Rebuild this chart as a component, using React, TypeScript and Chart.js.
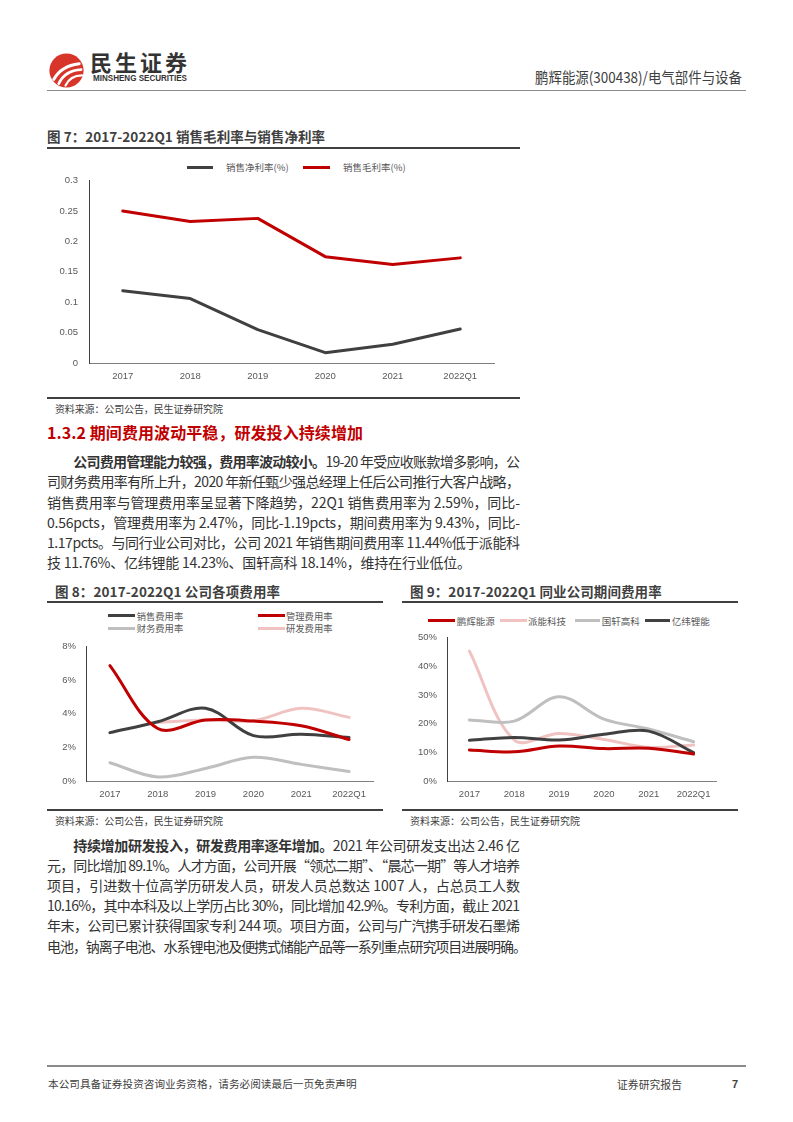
import React, { useEffect, useLayoutEffect, useRef } from "react";
import { Chart, registerables } from "chart.js";
Chart.register(...registerables);

const CJK = "'Noto Sans CJK SC','Noto Sans',sans-serif";
const NUM = "'Liberation Sans','Noto Sans CJK SC',sans-serif";

const DARK = "#404040";
const RED = "#c00000";
const GRAY = "#bfbfbf";
const PINK = "#f0c2c2";
const TICK = "#595959";

// ---------- data ----------
const years = ["2017", "2018", "2019", "2020", "2021", "2022Q1"];

// Figure 7
const netMargin = [0.119, 0.106, 0.055, 0.017, 0.031, 0.056];
const grossMargin = [0.25, 0.233, 0.238, 0.175, 0.162, 0.173];

// Figure 8 (%)
const sellingRate = [2.88, 3.53, 4.33, 2.7, 2.78, 2.59];
const adminRate = [6.87, 3.13, 3.63, 3.57, 3.29, 2.47];
const financeRate = [1.09, 0.24, 0.75, 1.41, 0.99, 0.56];
const rdRate = [null, 3.49, 3.63, 3.59, 4.33, 3.79];

// Figure 9 (%)
const penghui = [10.8, 10.2, 12.2, 11.3, 11.44, 9.43];
const paineng = [45.3, 14.3, 16.6, 14.5, 11.76, 12.6];
const guoxuan = [21.3, 20.9, 29.4, 21.6, 18.14, 13.7];
const yiwei = [14.2, 15.2, 14.3, 16.3, 17.4, 9.9];

// ---------- helpers ----------
function Fit({ w, mode = "space", children }: { w: number; mode?: string; children: any }) {
  const ref = useRef<HTMLSpanElement>(null);
  useLayoutEffect(() => {
    const el = ref.current;
    if (!el) return;
    el.style.letterSpacing = "0px";
    el.style.transform = "none";
    const nat = el.getBoundingClientRect().width;
    if (mode === "scale") {
      el.style.transform = `scaleX(${w / nat})`;
    } else {
      const n = Array.from(el.textContent || "").length;
      if (n > 1) el.style.letterSpacing = `${(w - nat) / (n - 1)}px`;
    }
  }, [w, mode]);
  return (
    <span ref={ref} style={{ display: "inline-block", whiteSpace: "nowrap", transformOrigin: "0 0" }}>
      {children}
    </span>
  );
}

function Txt(props: {
  x: number; cy: number; size: number; w?: number; mode?: string; color?: string;
  weight?: any; family?: string; children: any;
}) {
  const lh = Math.round(props.size * 1.5);
  return (
    <div
      style={{
        position: "absolute", left: props.x, top: props.cy - lh / 2, height: lh, lineHeight: lh + "px",
        fontSize: props.size, color: props.color || "#333", fontWeight: props.weight || 400,
        fontFamily: props.family || CJK, whiteSpace: "nowrap",
      }}
    >
      {props.w ? <Fit w={props.w} mode={props.mode}>{props.children}</Fit> : props.children}
    </div>
  );
}

function Rule({ x1, x2, y, t, color }: { x1: number; x2: number; y: number; t: number; color: string }) {
  return <div style={{ position: "absolute", left: x1, top: y - t / 2, width: x2 - x1, height: t, background: color }} />;
}

function Leg({ x1, x2, cy, color, tx, label, size }: any) {
  return (
    <>
      <div style={{ position: "absolute", left: x1, top: cy - 1.5, width: x2 - x1, height: 3, background: color }} />
      <Txt x={tx} cy={cy} size={size} color={TICK}>{label}</Txt>
    </>
  );
}

function makeOptions(o: {
  min: number; max: number; step: number; fmt: (v: number) => string; yW: number; xH: number;
  padRight: number; yPad: number; xPad: number; tension: number;
}) {
  return {
    animation: false,
    responsive: false,
    devicePixelRatio: 1,
    layout: { padding: { top: 0, right: o.padRight, left: 0, bottom: 0 } },
    plugins: { legend: { display: false }, tooltip: { enabled: false } },
    elements: {
      point: { radius: 0, hoverRadius: 0 },
      line: { tension: o.tension, borderCapStyle: "round", borderJoinStyle: "round", fill: false },
    },
    scales: {
      x: {
        offset: true,
        grid: { display: false, drawTicks: false },
        border: { display: true, color: "#808080", width: 1 },
        ticks: { padding: o.xPad, color: TICK, font: { family: NUM, size: 9.5 }, maxRotation: 0, autoSkip: false },
        afterFit: (s: any) => { s.height = o.xH; },
      },
      y: {
        min: o.min,
        max: o.max,
        grid: { display: false, drawTicks: false },
        border: { display: true, color: "#404040", width: 1 },
        ticks: {
          stepSize: o.step, padding: o.yPad, color: TICK, font: { family: NUM, size: 9.5 },
          callback: (v: any) => o.fmt(Number(v)),
        },
        afterFit: (s: any) => { s.width = o.yW; },
      },
    },
  };
}

function LineChart({ left, top, width, height, datasets, options }: any) {
  const ref = useRef<HTMLCanvasElement>(null);
  useEffect(() => {
    const c = new Chart(ref.current as HTMLCanvasElement, {
      type: "line",
      data: { labels: years, datasets },
      options,
    } as any);
    return () => c.destroy();
  }, []);
  return (
    <canvas ref={ref} width={width} height={height}
      style={{ position: "absolute", left, top, width, height }} />
  );
}

function Logo() {
  return (
    <svg style={{ position: "absolute", left: 49, top: 53 }} width={35} height={35} viewBox="0 0 36 36">
      <circle cx={18} cy={18} r={17.6} fill="#d8352a" />
      <path d="M5 27 C 10 18, 18 12.5, 31 11" stroke="#fff" strokeWidth={3.2} fill="none" strokeLinecap="round" />
      <path d="M10 31.5 C 14 23, 21 17.5, 33 17" stroke="#fff" strokeWidth={2.8} fill="none" strokeLinecap="round" />
      <path d="M17 33.5 C 20 27, 25 23, 34 23" stroke="#fff" strokeWidth={2.3} fill="none" strokeLinecap="round" />
    </svg>
  );
}

// chart area top = canvas top + tick half-height (5.7) + y tick padding
const fig7Options = makeOptions({
  min: 0, max: 0.3, step: 0.05, fmt: (v) => String(Math.round(v * 100) / 100),
  yW: 41, xH: 28, padRight: 10, yPad: 11, xPad: 8, tension: 0,
});
const fig8Options = makeOptions({
  min: 0, max: 8, step: 2, fmt: (v) => Math.round(v) + "%",
  yW: 40, xH: 28, padRight: 8, yPad: 10, xPad: 7.5, tension: 0.35,
});
const fig9Options = makeOptions({
  min: 0, max: 50, step: 10, fmt: (v) => Math.round(v) + "%",
  yW: 40, xH: 28, padRight: 10, yPad: 10, xPad: 7.5, tension: 0.35,
});

const B = ({ children }: any) => <b style={{ fontWeight: 700 }}>{children}</b>;

export default function App() {
  const P = 14;
  return (
    <div style={{ position: "absolute", left: 0, top: 0, width: 793, height: 1122, background: "#fff", overflow: "hidden" }}>
      {/* header */}
      <Logo />
      <Txt x={90} cy={61.5} size={22} w={97} weight={700} color="#333">民生证券</Txt>
      <Txt x={93} cy={78.7} size={8.5} w={94} mode="scale" weight={700} color="#333" family={NUM}>MINSHENG SECURITIES</Txt>
      <Txt x={535} cy={76.5} size={15} w={207} mode="scale" color="#404040">鹏辉能源(300438)/电气部件与设备</Txt>
      <Rule x1={47} x2={746} y={90.7} t={1.5} color="#8a8a8a" />

      {/* figure 7 */}
      <Txt x={47} cy={136} size={13.5} w={278} weight={700} color={DARK}>图 7：2017-2022Q1 销售毛利率与销售净利率</Txt>
      <Rule x1={47} x2={520} y={148} t={2} color={DARK} />
      <Leg x1={187} x2={213} cy={167.3} color={DARK} tx={226} label="销售净利率(%)" size={9.5} />
      <Leg x1={303} x2={330} cy={167.3} color={RED} tx={343} label="销售毛利率(%)" size={9.5} />
      <LineChart left={48} top={164} width={456} height={227} options={fig7Options}
        datasets={[
          { label: "销售净利率(%)", data: netMargin, borderColor: DARK, borderWidth: 3 },
          { label: "销售毛利率(%)", data: grossMargin, borderColor: RED, borderWidth: 3 },
        ]} />
      <Rule x1={47} x2={520} y={398} t={2} color={DARK} />
      <Txt x={55} cy={408.3} size={10} w={168} color={DARK}>资料来源：公司公告，民生证券研究院</Txt>

      {/* section */}
      <Txt x={47} cy={431.7} size={16} w={316} weight={700} color={RED}>1.3.2 期间费用波动平稳，研发投入持续增加</Txt>

      <Txt x={73.3} cy={461.7} size={P} w={446.7}><B>公司费用管理能力较强，费用率波动较小。</B>19-20 年受应收账款增多影响，公</Txt>
      <Txt x={47} cy={481.9} size={P} w={473}>司财务费用率有所上升，2020 年新任甄少强总经理上任后公司推行大客户战略，</Txt>
      <Txt x={47} cy={502.1} size={P} w={473}>销售费用率与管理费用率呈显著下降趋势，22Q1 销售费用率为 2.59%，同比-</Txt>
      <Txt x={47} cy={522.3} size={P} w={473}>0.56pcts，管理费用率为 2.47%，同比-1.19pcts，期间费用率为 9.43%，同比-</Txt>
      <Txt x={47} cy={542.5} size={P} w={473}>1.17pcts。与同行业公司对比，公司 2021 年销售期间费用率 11.44%低于派能科</Txt>
      <Txt x={47} cy={562.7} size={P} w={424}>技 11.76%、亿纬锂能 14.23%、国轩高科 18.14%，维持在行业低位。</Txt>

      {/* figure 8 */}
      <Txt x={55} cy={590.5} size={13.5} w={225} weight={700} color={DARK}>图 8：2017-2022Q1 公司各项费用率</Txt>
      <Rule x1={47} x2={383} y={601.5} t={2} color={DARK} />
      <Leg x1={108} x2={135} cy={615.7} color={DARK} tx={136.7} label="销售费用率" size={9.3} />
      <Leg x1={258} x2={285} cy={615.7} color={RED} tx={286} label="管理费用率" size={9.3} />
      <Leg x1={108} x2={135} cy={628.3} color={GRAY} tx={136.7} label="财务费用率" size={9.3} />
      <Leg x1={258} x2={285} cy={628.3} color={PINK} tx={286} label="研发费用率" size={9.3} />
      <LineChart left={46} top={631} width={335} height={178} options={fig8Options}
        datasets={[
          { label: "管理费用率", data: adminRate, borderColor: RED, borderWidth: 3, order: 0 },
          { label: "销售费用率", data: sellingRate, borderColor: DARK, borderWidth: 3, order: 1 },
          { label: "研发费用率", data: rdRate, borderColor: PINK, borderWidth: 3, order: 2 },
          { label: "财务费用率", data: financeRate, borderColor: GRAY, borderWidth: 3, order: 3 },
        ]} />
      <Rule x1={47} x2={383} y={810} t={2} color={DARK} />
      <Txt x={55} cy={820.3} size={10} w={168} color={DARK}>资料来源：公司公告，民生证券研究院</Txt>

      {/* figure 9 */}
      <Txt x={410} cy={590.5} size={13.5} w={251.7} weight={700} color={DARK}>图 9：2017-2022Q1 同业公司期间费用率</Txt>
      <Rule x1={401.5} x2={738} y={601.5} t={2} color={DARK} />
      <Leg x1={428} x2={455} cy={620.7} color={RED} tx={456.7} label="鹏辉能源" size={9.5} />
      <Leg x1={500} x2={526.7} cy={620.7} color={PINK} tx={528} label="派能科技" size={9.5} />
      <Leg x1={575} x2={600} cy={620.7} color={GRAY} tx={601.7} label="国轩高科" size={9.5} />
      <Leg x1={645} x2={670} cy={620.7} color={DARK} tx={671.7} label="亿纬锂能" size={9.5} />
      <LineChart left={407} top={622} width={319} height={187} options={fig9Options}
        datasets={[
          { label: "鹏辉能源", data: penghui, borderColor: RED, borderWidth: 3, order: 0 },
          { label: "派能科技", data: paineng, borderColor: PINK, borderWidth: 3, order: 3 },
          { label: "国轩高科", data: guoxuan, borderColor: GRAY, borderWidth: 3, order: 2 },
          { label: "亿纬锂能", data: yiwei, borderColor: DARK, borderWidth: 3, order: 1 },
        ]} />
      <Rule x1={401.5} x2={738} y={810} t={2} color={DARK} />
      <Txt x={410} cy={820.3} size={10} w={170} color={DARK}>资料来源：公司公告，民生证券研究院</Txt>

      {/* paragraph 2 */}
      <Txt x={73.3} cy={845} size={P} w={446.7}><B>持续增加研发投入，研发费用率逐年增加。</B>2021 年公司研发支出达 2.46 亿</Txt>
      <Txt x={47} cy={865.2} size={P} w={473}>元，同比增加 89.1%。人才方面，公司开展“领芯二期”、“晨芯一期”等人才培养</Txt>
      <Txt x={47} cy={885.4} size={P} w={473}>项目，引进数十位高学历研发人员，研发人员总数达 1007 人，占总员工人数</Txt>
      <Txt x={47} cy={905.6} size={P} w={473}>10.16%，其中本科及以上学历占比 30%，同比增加 42.9%。专利方面，截止 2021</Txt>
      <Txt x={47} cy={925.8} size={P} w={473}>年末，公司已累计获得国家专利 244 项。项目方面，公司与广汽携手研发石墨烯</Txt>
      <Txt x={47} cy={946} size={P} w={480}>电池，钠离子电池、水系锂电池及便携式储能产品等一系列重点研究项目进展明确。</Txt>

      {/* footer */}
      <Rule x1={47} x2={746} y={1066} t={1.5} color="#8a8a8a" />
      <Txt x={48} cy={1084} size={10.6} w={308.6} color={DARK}>本公司具备证券投资咨询业务资格，请务必阅读最后一页免责声明</Txt>
      <Txt x={617} cy={1084} size={10.8} w={65} color={DARK}>证券研究报告</Txt>
      <Txt x={732} cy={1084} size={11} weight={700} color={DARK} family={NUM}>7</Txt>
    </div>
  );
}
